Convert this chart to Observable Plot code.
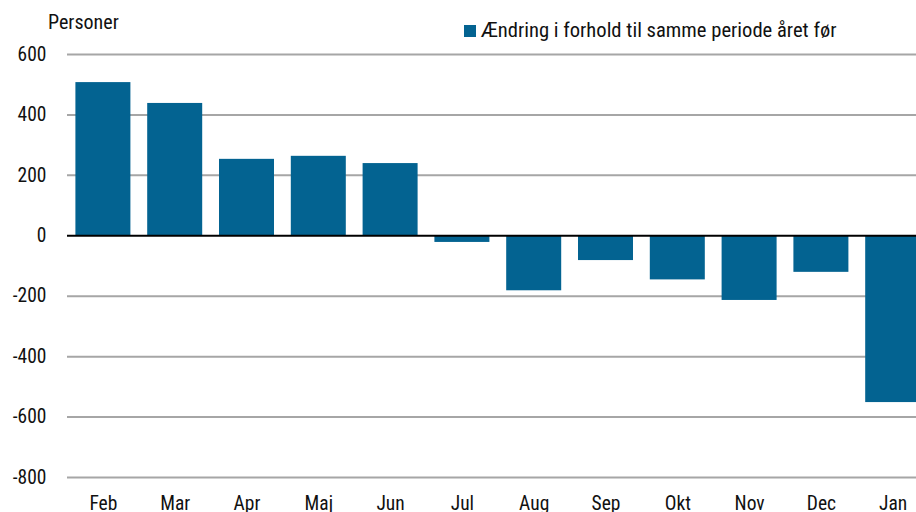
<!DOCTYPE html>
<html>
<head>
<meta charset="utf-8">
<script src="https://cdn.jsdelivr.net/npm/d3@7"></script>
<script src="https://cdn.jsdelivr.net/npm/@observablehq/plot@0.6"></script>
<style>
  html, body { margin: 0; padding: 0; background: #fff; }
  #wrap { position: relative; width: 916px; height: 512px; overflow: hidden; font-family: "Roboto Condensed", "Liberation Sans", sans-serif; }
  #wrap svg { overflow: hidden; }
  .unit { position: absolute; left: 48px; top: 10px; font-size: 20px; color: #111; line-height: 1.2; }
  .legend { position: absolute; left: 464px; top: 18px; font-size: 20.6px; color: #111; display: flex; align-items: center; white-space: nowrap; line-height: 1.2; }
  .legend .sw { width: 12px; height: 12px; background: #036391; margin-right: 5px; margin-top: 2px; }
</style>
</head>
<body>
<div id="wrap">
  <div class="unit">Personer</div>
  <div class="legend"><span class="sw"></span><span>Ændring i forhold til samme periode året før</span></div>
</div>
<script>
const months = ["Feb", "Mar", "Apr", "Maj", "Jun", "Jul", "Aug", "Sep", "Okt", "Nov", "Dec", "Jan"];
const values = [507, 438, 253, 263, 239, -22, -182, -82, -146, -214, -121, -552];
const yTicks = [-800, -600, -400, -200, 0, 200, 400, 600];
const seriesName = "Ændring i forhold til samme periode året før";

const data = months.map((m, i) => ({month: m, value: values[i]}));

const chart = Plot.plot({
  width: 916,
  height: 512,
  marginLeft: 67,
  marginRight: 0,
  marginTop: 54,
  marginBottom: 35,
  style: {fontFamily: "'Roboto Condensed', 'Liberation Sans', sans-serif", fontSize: "19.5px", color: "#111", background: "transparent"},
  x: {domain: months, range: [67, 928.6], round: false, paddingInner: 0.234, paddingOuter: 0.117, label: null, tickSize: 0, tickPadding: 19},
  y: {domain: [-800, 600], ticks: yTicks, label: null, tickSize: 0, tickPadding: 21, tickFormat: d => String(d)},
  marks: [
    Plot.ruleY(yTicks.filter(d => d !== 0), {stroke: "#a6a6a6", strokeWidth: 2}),
    Plot.barY(data, {x: "month", y: "value", fill: "#036391", title: d => `${seriesName}: ${d.value}`}),
    Plot.ruleY([0], {stroke: "#000", strokeWidth: 2})
  ]
});
document.getElementById("wrap").appendChild(chart);
</script>
</body>
</html>
